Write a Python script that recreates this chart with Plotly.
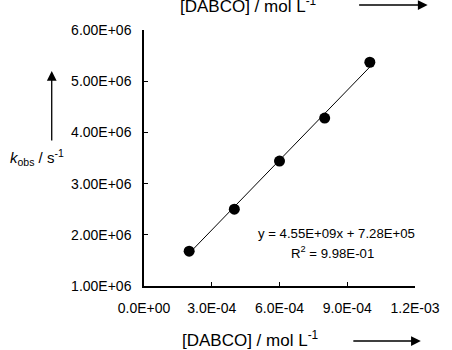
import plotly.graph_objects as go

# Observed rate constants vs DABCO concentration
dabco_conc = [2.0e-4, 4.0e-4, 6.0e-4, 8.0e-4, 1.0e-3]
k_obs = [1.68e6, 2.50e6, 3.44e6, 4.28e6, 5.37e6]

# Linear fit y = slope * x + intercept
fit_slope = 4.55e9
fit_intercept = 7.28e5
fit_r2 = 9.98e-1

x_tickvals = [0.0, 3.0e-4, 6.0e-4, 9.0e-4, 1.2e-3]
x_ticktext = ["0.0E+00", "3.0E-04", "6.0E-04", "9.0E-04", "1.2E-03"]
y_tickvals = [1e6, 2e6, 3e6, 4e6, 5e6, 6e6]
y_ticktext = ["1.00E+06", "2.00E+06", "3.00E+06", "4.00E+06", "5.00E+06", "6.00E+06"]

FONT = "Liberation Sans, Arial, sans-serif"

fit_x = [dabco_conc[0], dabco_conc[-1]]
fit_y = [fit_slope * x + fit_intercept for x in fit_x]

fig = go.Figure()
fig.add_trace(go.Scatter(x=fit_x, y=fit_y, mode="lines",
                         line=dict(color="black", width=1), hoverinfo="skip"))
fig.add_trace(go.Scatter(x=dabco_conc, y=k_obs, mode="markers",
                         marker=dict(color="black", size=11)))

fig.update_layout(
    width=452, height=350,
    margin=dict(l=144, r=29, t=30, b=64),
    paper_bgcolor="white", plot_bgcolor="white",
    showlegend=False,
    font=dict(family=FONT, color="black", size=13),
)
fig.update_xaxes(range=[0, 1.2e-3], tickvals=x_tickvals, ticktext=x_ticktext,
                 showgrid=False, zeroline=False, showline=True, linecolor="black",
                 linewidth=1.5, ticks="inside", ticklen=4, tickcolor="black",
                 tickfont=dict(family=FONT, color="black", size=14),
                 ticklabelstandoff=8)
fig.update_yaxes(range=[1e6, 6e6], tickvals=y_tickvals, ticktext=y_ticktext,
                 showgrid=False, zeroline=False, showline=True, linecolor="black",
                 linewidth=1.5, ticks="inside", ticklen=4, tickcolor="black",
                 tickfont=dict(family=FONT, color="black", size=14),
                 ticklabelstandoff=8)

W, H = 279.0, 256.0  # plot area size in px


def px(x):
    return (x - 144) / W


def py(y):
    return (286 - y) / H


title_txt = "[DABCO] / mol L<sup>-1</sup>"
annots = [
    dict(x=px(252), y=py(5), text=title_txt, font=dict(size=17)),
    dict(x=px(254), y=py(339), text=title_txt, font=dict(size=17)),
    dict(x=px(34), y=py(157), text="<i>k</i><sub>obs</sub> / s<sup>-1</sup>",
         font=dict(size=15)),
    dict(x=px(342), y=py(233),
         text=f"y = {fit_slope:.2E}x + {fit_intercept:.2E}",
         font=dict(size=13.2)),
    dict(x=px(338), y=py(252), text=f"R<sup>2</sup> = {fit_r2:.2E}", font=dict(size=13.2)),
]
for a in annots:
    fig.add_annotation(xref="paper", yref="paper", showarrow=False,
                       xanchor="center", yanchor="middle", **a)

# direction arrows
for hx, hy, ax, ay in [(436, 5, -70, 0), (429, 341, -69, 0), (49, 71, 0, 71)]:
    fig.add_annotation(xref="paper", yref="paper", x=px(hx), y=py(hy), ax=ax, ay=ay,
                       text="", showarrow=True, arrowhead=2, arrowsize=1.5,
                       arrowwidth=1.3, arrowcolor="black")

fig.write_html("out.html")
